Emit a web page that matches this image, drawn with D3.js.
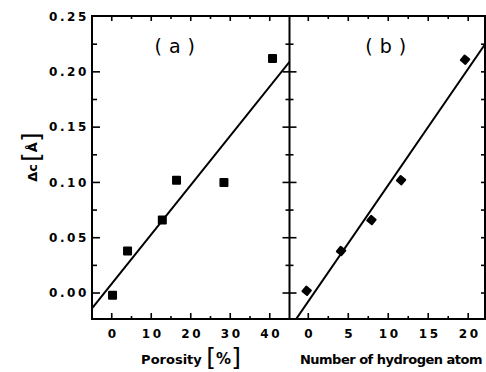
<!DOCTYPE html>
<html>
<head>
<meta charset="utf-8">
<script src="https://cdn.jsdelivr.net/npm/d3@7"></script>
<style>
  html, body { margin: 0; padding: 0; background: #fff; }
  svg { display: block; }
  text { font-family: 'DejaVu Sans', sans-serif; fill: #000; }
</style>
</head>
<body>
<div id="chart"></div>
<script>
// (a) Δc vs porosity
const porosity = [0.2, 4, 12.8, 16.4, 28.4, 40.7];
const dcPorosity = [-0.002, 0.038, 0.066, 0.102, 0.1, 0.212];
// (b) Δc vs number of hydrogen atom
const hydrogen = [-0.2, 4.1, 7.9, 11.6, 19.6];
const dcHydrogen = [0.002, 0.038, 0.066, 0.102, 0.211];
// fitted lines, end points
const fitPorosity = [[-5, -0.0138], [45, 0.209]];
const fitHydrogen = [[-1.6, -0.0244], [22.1, 0.225]];

const yTicks = [0, 0.05, 0.1, 0.15, 0.2, 0.25];
const xTicksA = [0, 10, 20, 30, 40];
const xTicksB = [0, 5, 10, 15, 20];

const W = 486, H = 372;
const pTop = 16, pBottom = 319, pLeft = 92, pMid = 289.5, pRight = 485;

const svg = d3.select('#chart').append('svg').attr('width', W).attr('height', H);

const y = d3.scaleLinear().domain([-0.0235, 0.2505]).range([pBottom, pTop]);
const xA = d3.scaleLinear().domain([-5, 45]).range([pLeft, pMid]);
const xB = d3.scaleLinear().domain([-2.35, 22.1]).range([pMid, pRight]);

const isMul = (v, m) => Math.abs(v / m - Math.round(v / m)) < 1e-6;

const line = d3.line().x((d) => d[0]).y((d) => d[1]);

// tick marks on a vertical axis
const hTicks = (vals, x0, len) => {
  svg.append('g')
    .selectAll('line')
    .data(vals)
    .enter()
    .append('line')
    .attr('x1', (d) => x0 - len(d)[0])
    .attr('x2', (d) => x0 + len(d)[1])
    .attr('y1', (d) => y(d))
    .attr('y2', (d) => y(d))
    .attr('stroke', '#000')
    .attr('stroke-width', 1.6);
};

// tick marks on a horizontal axis
const vTicks = (vals, x, y0, dir, len) => {
  svg.append('g')
    .selectAll('line')
    .data(vals)
    .enter()
    .append('line')
    .attr('x1', (d) => x(d))
    .attr('x2', (d) => x(d))
    .attr('y1', y0)
    .attr('y2', (d) => y0 + dir * len(d))
    .attr('stroke', '#000')
    .attr('stroke-width', 1.6);
};

const yMinor = d3.range(0, 0.24, 0.025);
hTicks(yMinor, pLeft, (d) => [0, isMul(d, 0.05) ? 8 : 5]);
hTicks(yMinor, pMid, (d) => (isMul(d, 0.05) ? [7, 7] : [4, 4]));
hTicks(yMinor, pRight, () => [4, 0]);

const xMinorA = d3.range(0, 41, 5);
vTicks(xMinorA, xA, pBottom, -1, (d) => (isMul(d, 10) ? 6 : 3));
vTicks(xMinorA, xA, pTop, 1, (d) => (isMul(d, 10) ? 5 : 3));

const xMinorB = d3.range(0, 21, 2.5);
vTicks(xMinorB, xB, pBottom, -1, (d) => (isMul(d, 5) ? 6 : 3));
vTicks(xMinorB, xB, pTop, 1, (d) => (isMul(d, 5) ? 5 : 3));

// frame
const frame = svg.append('g').attr('stroke', '#000').attr('stroke-width', 2).attr('fill', 'none');
frame.append('rect').attr('x', pLeft).attr('y', pTop).attr('width', pRight - pLeft).attr('height', pBottom - pTop);
frame.append('line').attr('x1', pMid).attr('x2', pMid).attr('y1', pTop).attr('y2', pBottom);

// clip each panel
const defs = svg.append('defs');
[['clipA', pLeft, pMid], ['clipB', pMid, pRight]].forEach(([id, x0, x1]) => {
  defs.append('clipPath').attr('id', id)
    .append('rect').attr('x', x0).attr('y', pTop).attr('width', x1 - x0).attr('height', pBottom - pTop);
});

const drawPanel = (x, clip, xs, ys, fit, diamond) => {
  const g = svg.append('g').attr('clip-path', `url(#${clip})`);

  g.append('path')
    .attr('d', line(fit.map((p) => [x(p[0]), y(p[1])])))
    .attr('stroke', '#000')
    .attr('stroke-width', 2)
    .attr('fill', 'none');

  const s = diamond ? 8 : 9;
  g.selectAll('rect.pt')
    .data(xs.map((v, i) => [v, ys[i]]))
    .enter()
    .append('rect')
    .attr('class', 'pt')
    .attr('x', -s / 2)
    .attr('y', -s / 2)
    .attr('width', s)
    .attr('height', s)
    .attr('rx', 1)
    .attr('fill', '#000')
    .attr('transform', (d) => `translate(${x(d[0])},${y(d[1])})` + (diamond ? ' rotate(40)' : ''));
};

drawPanel(xA, 'clipA', porosity, dcPorosity, fitPorosity, false);
drawPanel(xB, 'clipB', hydrogen, dcHydrogen, fitHydrogen, true);

// tick labels
const fmt = d3.format('.2f');
svg.append('g')
  .selectAll('text')
  .data(yTicks)
  .enter()
  .append('text')
  .attr('x', 89)
  .attr('y', (d) => y(d))
  .attr('dy', '0.36em')
  .attr('text-anchor', 'end')
  .attr('font-size', 12)
  .attr('font-weight', 'bold')
  .attr('letter-spacing', 2.6)
  .text(fmt);

[[xA, xTicksA], [xB, xTicksB]].forEach(([x, vals]) => {
  svg.append('g')
    .selectAll('text')
    .data(vals)
    .enter()
    .append('text')
    .attr('x', (d) => x(d) + 1.5)
    .attr('y', 338)
    .attr('text-anchor', 'middle')
    .attr('font-size', 12)
    .attr('font-weight', 'bold')
    .attr('letter-spacing', 2.6)
    .text((d) => d);
});

// panel labels
[['( a )', 175], ['( b )', 386]].forEach(([t, cx]) => {
  svg.append('text')
    .attr('x', cx)
    .attr('y', 53)
    .attr('text-anchor', 'middle')
    .attr('font-size', 19)
    .attr('letter-spacing', 0.5)
    .text(t);
});

// axis titles
const tA = svg.append('text')
  .attr('x', 191)
  .attr('y', 364)
  .attr('text-anchor', 'middle')
  .attr('font-size', 13)
  .attr('font-weight', 'bold');
tA.append('tspan').text('Porosity ');
tA.append('tspan').attr('font-size', 25).attr('font-weight', 'normal').attr('dy', 2).text('[');
tA.append('tspan').attr('font-size', 15).attr('dy', -2).text('%');
tA.append('tspan').attr('font-size', 25).attr('font-weight', 'normal').attr('dy', 2).text(']');

svg.append('text')
  .attr('x', 391)
  .attr('y', 364)
  .attr('text-anchor', 'middle')
  .attr('font-size', 13)
  .attr('font-weight', 'bold')
  .attr('letter-spacing', -0.5)
  .text('Number of hydrogen atom');

const tY = svg.append('text')
  .attr('transform', 'translate(37,157) rotate(-90)')
  .attr('text-anchor', 'middle')
  .attr('font-size', 13)
  .attr('font-weight', 'bold');
tY.append('tspan').text('Δc');
tY.append('tspan').attr('font-size', 25).attr('font-weight', 'normal').attr('dy', 3).attr('dx', 2).text('[');
tY.append('tspan').attr('font-size', 13).attr('dy', -3).text('Å');
tY.append('tspan').attr('font-size', 25).attr('font-weight', 'normal').attr('dy', 3).text(']');
</script>
</body>
</html>
